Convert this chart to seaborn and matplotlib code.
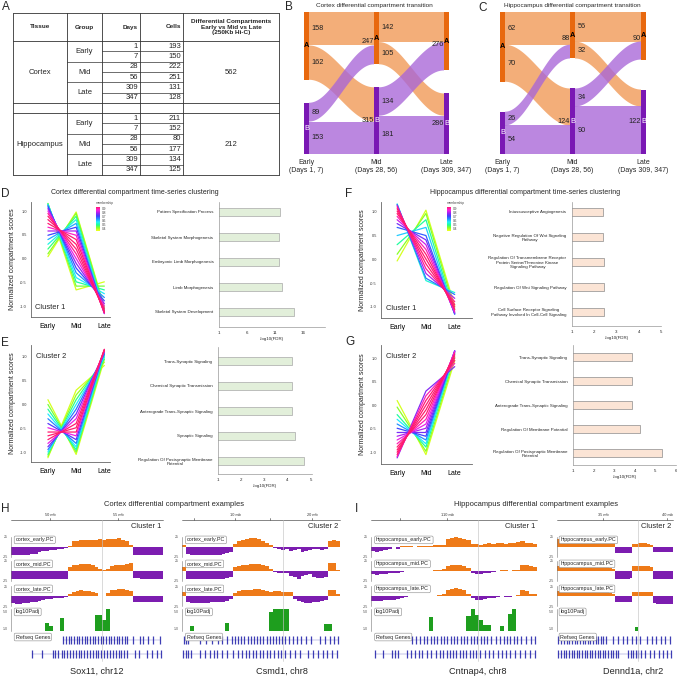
import numpy as np
import pandas as pd
import matplotlib
matplotlib.use("Agg")
import matplotlib.pyplot as plt
from matplotlib.colors import LinearSegmentedColormap
from matplotlib.patches import Polygon, Rectangle
import seaborn as sns

sns.set_theme(style="white")
plt.rcParams["font.family"] = ["Liberation Sans", "DejaVu Sans"]

# ---------------------------------------------------------------- data
# Panel A table
tissues = ["Cortex", "Hippocampus"]
groups = ["Early", "Mid", "Late"]
days = [1, 7, 28, 56, 309, 347]
cortex_cells = [193, 150, 222, 251, 131, 128]
hippo_cells = [211, 152, 80, 177, 134, 125]
diff_compartments = [562, 212]

# Panels B / C (rows: from A, from B ; cols: to A, to B)
stage_labels = ["Early\n(Days 1, 7)", "Mid\n(Days 28, 56)", "Late\n(Days 309, 347)"]
cortex_early_mid = [[158, 162], [89, 153]]
cortex_mid_late = [[142, 105], [134, 181]]
hippo_early_mid = [[62, 70], [26, 54]]
hippo_mid_late = [[56, 32], [34, 90]]

# Panels D-G parallel coordinates (normalized compartment scores)
d_early = [0.04, 0.10, 0.20, 0.30, 0.40, 0.49, 0.58, 0.66, 0.74, 0.82, 0.89, 0.95, 1.00, 1.05, 1.09, 1.12, 1.14, 1.15, 1.16, 1.15]
d_mid = [0.98, 0.95, 0.89, 0.82, 0.74, 0.66, 0.58, 0.49, 0.40, 0.30, 0.20, 0.10, 0.00, -0.10, -0.20, -0.30, -0.40, -0.49, -0.58, -0.66]
d_late = [-1.02, -1.05, -1.09, -1.12, -1.14, -1.15, -1.16, -1.15, -1.14, -1.12, -1.09, -1.05, -1.00, -0.95, -0.89, -0.82, -0.74, -0.66, -0.58, -0.49]
d_mem = [0.40, 0.45, 0.50, 0.56, 0.62, 0.70, 0.78, 0.85, 0.90, 0.95, 0.93, 0.88, 0.82, 0.76, 0.70, 0.64, 0.58, 0.52, 0.46, 0.40]

e_early = [0.10, 0.00, -0.10, -0.20, -0.30, -0.40, -0.49, -0.58, -0.66, -0.74, -0.82, -0.89, -0.95, -1.00, -1.05, -1.09, -1.12]
e_mid = [-1.05, -1.00, -0.95, -0.89, -0.82, -0.74, -0.66, -0.58, -0.49, -0.40, -0.30, -0.20, -0.10, 0.00, 0.10, 0.20, 0.30]
e_late = [0.95, 1.00, 1.05, 1.09, 1.12, 1.14, 1.15, 1.16, 1.15, 1.14, 1.12, 1.09, 1.05, 1.00, 0.95, 0.89, 0.82]
e_mem = [0.40, 0.46, 0.52, 0.58, 0.65, 0.72, 0.82, 0.92, 0.95, 0.90, 0.82, 0.74, 0.66, 0.58, 0.50, 0.44, 0.40]

f_early = [-0.04, 0.10, 0.30, 0.49, 0.66, 0.74, 0.82, 0.89, 0.95, 1.00, 1.05, 1.09, 1.12, 1.14, 1.15]
f_mid = [1.02, 0.95, 0.82, 0.66, 0.49, 0.40, 0.30, 0.20, 0.10, 0.00, -0.10, -0.20, -0.30, -0.40, -0.45]
f_late = [-0.98, -1.05, -1.12, -1.15, -1.15, -1.14, -1.12, -1.09, -1.05, -1.00, -0.95, -0.89, -0.82, -0.74, -0.70]
f_mem = [0.40, 0.45, 0.52, 0.60, 0.68, 0.74, 0.80, 0.86, 0.92, 0.95, 0.93, 0.88, 0.78, 0.66, 0.55]

g_early = [0.10, -0.04, -0.20, -0.30, -0.40, -0.49, -0.58, -0.66, -0.74, -0.82, -0.89, -0.95, -1.00, -1.05, -1.09, -1.12]
g_mid = [-1.05, -0.98, -0.89, -0.82, -0.74, -0.66, -0.58, -0.49, -0.40, -0.30, -0.20, -0.10, 0.00, 0.10, 0.20, 0.30]
g_late = [0.95, 1.02, 1.09, 1.12, 1.14, 1.15, 1.16, 1.15, 1.14, 1.12, 1.09, 1.05, 1.00, 0.95, 0.89, 0.82]
g_mem = [0.40, 0.45, 0.52, 0.58, 0.64, 0.70, 0.74, 0.78, 0.82, 0.86, 0.90, 0.94, 0.95, 0.92, 0.86, 0.75]

stage_ticks = ["Early", "Mid", "Late"]

# GO enrichment bars
d_terms = ["Pattern Specification Process", "Skeletal System Morphogenesis",
           "Embryonic Limb Morphogenesis", "Limb Morphogenesis", "Skeletal System Development"]
d_vals = [11.9, 11.7, 11.7, 12.2, 14.3]
e_terms = ["Trans-Synaptic Signaling", "Chemical Synaptic Transmission",
           "Anterograde Trans-Synaptic Signaling", "Synaptic Signaling",
           "Regulation Of Postsynaptic Membrane\nPotential"]
e_vals = [4.2, 4.2, 4.2, 4.3, 4.7]
f_terms = ["Intussusceptive Angiogenesis",
           "Negative Regulation Of Wnt Signaling\nPathway",
           "Regulation Of Transmembrane Receptor\nProtein Serine/Threonine Kinase\nSignaling Pathway",
           "Regulation Of Wnt Signaling Pathway",
           "Cell Surface Receptor Signaling\nPathway Involved In Cell-Cell Signaling"]
f_vals = [2.4, 2.4, 2.45, 2.45, 2.45]
g_terms = ["Trans-Synaptic Signaling", "Chemical Synaptic Transmission",
           "Anterograde Trans-Synaptic Signaling", "Regulation Of Membrane Potential",
           "Regulation Of Postsynaptic Membrane\nPotential"]
g_vals = [3.85, 3.85, 3.85, 4.25, 5.3]

# Panels H / I genome browser tracks (40 bins per locus)
h1_early = [-20, -21, -20, -20, -19, -18, -17, -12, -10, -9, -8, -8, -6, -4, -2,
            3, 15, 16, 17, 17, 18, 18, 18, 19, 18, 19, 19, 20, 22, 18, 14, 6,
            -20, -21, -21, -21, -21, -21, -21, -21]
h1_mid = [-20, -21, -21, -21, -21, -20, -20, -20, -20, -20, -20, -20, -20, -20, -19,
          10, 14, 16, 17, 18, 17, 15, 10, 4, 3, 5, 12, 14, 15, 16, 18, 20,
          -18, -18, -19, -19, -19, -19, -19, -19]
h1_late = [-18, -19, -19, -18, -17, -16, -14, -12, -10, -8, -7, -6, -5, -4, -2,
           6, 10, 12, 14, 13, 12, 10, 8, 1, 0, 8, 14, 16, 18, 17, 15, 12,
           -14, -15, -15, -15, -16, -16, -15, -15]
h1_padj = [0, 0, 0, 0, 0, 0, 0, 0, 0, 2.4, 1.6, 0, 0, 3.6, 0, 0, 0, 0, 0, 0,
           0, 0, 4.3, 4.3, 3.1, 6.0, 0, 0, 0, 0, 0, 0, 0, 0, 0, 0, 0, 0, 0, 0]
h2_early = [5, -18, -20, -21, -21, -20, -20, -19, -19, -20, -18, -16, -12,
            8, 14, 17, 20, 22, 22, 20, 16, 10, 4,
            -3, -5, -8, -6, -10, -8, -5, -12, -10, -8, -6, -4, -8, -6,
            15, 18, 15]
h2_mid = [10, -19, -20, -20, -20, -20, -20, -20, -19, -19, -19, -18, -15,
          10, 12, 14, 16, 18, 18, 17, 15, 12, 5,
          -2, -4, -5, -6, -12, -14, -20, -12, -10, -8, -16, -18, -18, -16,
          20, 20, 2]
h2_late = [10, -14, -17, -18, -18, -18, -17, -16, -16, -15, -14, -12, -8,
           8, 12, 14, 15, 16, 18, 17, 16, 13, 11, 12, 12, 10, 11, 9,
           -8, -12, -15, -18, -17, -14, -16, -13, -10,
           15, 16, 5]
h2_padj = [0, 0, 1.7, 0, 0, 0, 0, 0, 0, 0, 0, 2.4, 0, 0, 0, 0, 0, 0, 0, 0,
           0, 0, 5.0, 5.7, 5.7, 5.7, 5.7, 0, 0, 0, 0, 0, 0, 0, 0, 0, 2.2, 2.2, 0, 0]
i1_early = [-10, -12, -10, -8, -4, 0, -6, 2, 3, 2, 1, 2, 3, 2, 3, 5, 6, 4,
            20, 22, 24, 22, 20, 18,
            8, 7, 6, 7, 9, 8, 10, 9, 8, 9, 10, 12, 14, 10, 9, 8]
i1_mid = [-8, -9, -8, -7, -6, -6, -5, -3, -1, -1, 0, 1, 1, 0, 1, 2, 3, 5,
          12, 14, 16, 15, 12, 8, -4, -7, -8, -6, -5, -3, 1, 2, 2, 1, 2, 3,
          14, 16, 12, 10]
i1_late = [-12, -13, -12, -10, -10, -9, -8, -5, -2, -1, -1, -1, 0, -1, 0, 1, 2, 4,
           16, 18, 19, 18, 16, 6, -6, -9, -10, -8, -6, -4, -2, -1, -2, -3, -1, 2,
           15, 12, 6, 4]
i1_padj = [0, 0, 0, 0, 0, 0, 0, 0, 0, 0, 0, 0, 0, 0, 3.8, 0, 0, 0, 0, 0,
           0, 0, 0, 4.0, 5.7, 4.3, 3.1, 2.0, 2.0, 0, 0, 1.8, 0, 4.5, 5.7, 0, 0, 0, 0, 0]
i2_early = [20, 20, 20, 20, 20, 20, 20, 20, 20, 20, 18,
            15, 15, 15, 14, 14, 14, 12, 12, 10,
            -16, -16, -16, -16, -16, -14,
            8, 8, 9, 9, 9, 8, 6,
            -12, -12, -12, -12, -12, -12, -12]
i2_mid = [12, 12, 12, 12, 12, 12, 11, 11, 11, 11, 11, 10, 10, 10, 10, 10, 10, 10, 8, 6,
          -20, -20, -20, -20, -20, -18,
          12, 13, 13, 13, 12, 12, 10,
          -20, -20, -20, -20, -20, -20, -20]
i2_late = [12, 12, 12, 12, 12, 11, 11, 11, 11, 11, 10, 10, 10, 10, 10, 10, 9, 9, 8, 6,
           -15, -16, -16, -16, -16, -14,
           10, 10, 11, 11, 11, 10, 9,
           -18, -20, -20, -20, -20, -20, -20]
i2_padj = [0] * 27 + [1.5] + [0] * 12

# gene tick positions (bin units) for the two RefSeq rows
h1_genes1 = [13.8, 14.5, 15.2, 15.9, 16.6, 17.3, 18.0, 18.7, 19.4, 20.1, 20.8, 21.5, 22.2, 22.9,
             23.6, 24.3, 25.0, 25.7, 26.4, 27.1, 27.8, 28.5, 29.2, 29.9, 30.6,
             32.1, 33.9, 34.7, 36.1, 37.4, 39.2]
h1_genes2 = [5.5, 8.1, 11.0, 11.6, 12.4, 13.3, 14.0, 14.8, 15.5, 16.3, 17.0, 17.8, 18.5, 19.3,
             20.0, 20.8, 21.5, 22.3, 23.0, 23.8, 24.5, 25.3, 26.0, 26.8, 27.5, 28.3, 29.0,
             29.8, 30.6, 32.6, 33.8, 35.7, 37.0, 38.3, 39.6]
h2_genes1 = [0.4, 1.0, 1.5, 4.6, 6.0, 7.5, 9.0, 10.2, 11.4, 12.6, 13.4, 14.2, 15.0, 15.8, 16.6,
             17.4, 18.2, 19.0, 19.8, 20.6, 21.4, 22.2, 23.0, 23.8, 24.6, 25.4, 26.2, 27.0,
             28.0, 29.0, 30.2, 31.4, 32.6, 35.0, 36.2, 37.4, 38.6, 39.6]
h2_genes2 = [0.2, 0.9, 1.6, 2.4, 4.6, 5.8, 7.0, 8.0, 8.8, 10.0, 11.5, 13.0, 14.3, 15.2, 16.1,
             17.0, 17.9, 18.8, 19.7, 20.6, 21.5, 22.4, 23.3, 24.2, 25.1, 26.0, 27.4, 28.6,
             29.9, 32.0, 33.2, 34.4, 35.6, 36.8, 38.0, 39.2]
i1_genes1 = [9.8, 10.8, 11.8, 12.8, 13.6, 14.4, 15.2, 16.0, 16.8, 17.6, 18.4, 19.2, 20.0, 20.8,
             21.6, 22.4, 23.2, 24.0, 24.8, 25.6, 26.4, 27.2, 28.0, 29.0, 30.0, 31.2, 32.0,
             32.8, 33.6, 34.4, 35.2, 36.2, 37.4, 38.6, 39.6]
i1_genes2 = [1.0, 3.0, 5.0, 5.8, 6.6, 8.6, 9.6, 10.6, 11.6, 12.4, 13.4, 14.4, 15.6, 16.6, 17.4,
             18.2, 19.0, 19.8, 20.6, 21.4, 22.2, 23.0, 23.8, 24.6, 25.4, 26.2, 27.4, 28.4,
             29.4, 30.6, 31.6, 32.6, 33.6, 34.8, 36.0, 37.0, 38.2, 39.4]
i2_genes1 = [0.5, 1.5, 2.5, 3.4, 4.3, 5.2, 6.1, 7.0, 7.9, 8.8, 9.7, 10.6, 11.5, 12.4, 13.3, 14.2,
             15.1, 16.0, 17.0, 19.4, 21.0, 22.6, 24.2, 25.8, 27.4, 28.6, 31.0, 32.6, 34.2,
             35.8, 37.4, 39.0]
i2_genes2 = [0.5, 1.4, 2.3, 3.2, 4.1, 5.0, 5.9, 6.8, 7.7, 8.6, 9.5, 10.4, 11.3, 12.2, 13.1, 14.0,
             14.9, 15.8, 16.7, 17.6, 18.5, 19.4, 20.3, 21.2, 24.5, 25.4, 26.3, 27.2, 28.1,
             29.0, 30.5, 32.0, 33.5, 35.0, 36.5, 38.0, 39.3]

# ---------------------------------------------------------------- figure
W = H = 677
fig = plt.figure(figsize=(6.77, 6.77), dpi=100)


def add_ax(x, y, w, h):
    return fig.add_axes([x / W, 1 - (y + h) / H, w / W, h / H])


ov = add_ax(0, 0, W, H)
ov.set_xlim(0, W)
ov.set_ylim(H, 0)
ov.axis("off")
ov.set_zorder(20)
ov.patch.set_visible(False)

# panel letters
for lab, (lx, ly) in {"A": (2, 7), "B": (285, 7), "C": (478, 8), "D": (1, 194),
                      "E": (1, 343), "F": (345, 194), "G": (345, 342),
                      "H": (1, 509), "I": (355, 509)}.items():
    ov.text(lx, ly, lab, fontsize=8.5, ha="left", va="center")

# ---------------------------------------------------------------- A: table
LINE = "#333333"
cols = [13, 67, 102, 140, 183, 279]
for y in [13, 41, 103, 113, 175]:
    ov.plot([13, 279], [y, y], color=LINE, lw=0.6)
for x in cols:
    ov.plot([x, x], [13, 175], color=LINE, lw=0.6)
ov.text(40, 27, "Tissue", fontsize=4.6, fontweight="bold", ha="center", va="center")
ov.text(84.5, 27, "Group", fontsize=4.6, fontweight="bold", ha="center", va="center")
ov.text(138, 27, "Days", fontsize=4.6, fontweight="bold", ha="right", va="center")
ov.text(181, 27, "Cells", fontsize=4.6, fontweight="bold", ha="right", va="center")
ov.text(231, 27, "Differential Compartments\nEarly vs Mid vs Late\n(250Kb Hi-C)",
        fontsize=4.6, fontweight="bold", ha="center", va="center", linespacing=1.15)
for ti, (base, cells) in enumerate(zip([41, 113], [cortex_cells, hippo_cells])):
    sub = 62 / 6
    ov.text(40, base + 31, tissues[ti], fontsize=5.5, ha="center", va="center")
    ov.text(231, base + 31, str(diff_compartments[ti]), fontsize=5.5, ha="center", va="center")
    for g in range(3):
        ov.text(84.5, base + sub * (2 * g + 1), groups[g], fontsize=5.5, ha="center", va="center")
    for r in range(6):
        yc = base + sub * (r + 0.5)
        ov.text(138, yc, str(days[r]), fontsize=5.5, ha="right", va="center")
        ov.text(181, yc, str(cells[r]), fontsize=5.5, ha="right", va="center")
    for r in range(1, 6):
        yl = base + sub * r
        x_start = 67 if r % 2 == 0 else 102
        ov.plot([x_start, 183], [yl, yl], color=LINE, lw=0.5)

# ---------------------------------------------------------------- B / C: sankey
NODE_A, NODE_B = "#E8680E", "#7A18B4"
FLOW_A, FLOW_B = "#F2A062", "#A865D8"
NW = 5


def sankey(xs, em, ml, gap, title, tx):
    top, bot = 12, 154
    nA = [sum(em[0]), em[0][0] + em[1][0], ml[0][0] + ml[1][0]]
    nB = [sum(em[1]), em[0][1] + em[1][1], ml[0][1] + ml[1][1]]
    k = (bot - top - gap) / (nA[0] + nB[0])
    ext = [((top, top + nA[i] * k), (bot - nB[i] * k, bot)) for i in range(3)]
    for stage, mat in enumerate([em, ml]):
        x0 = xs[stage] + NW
        x1 = xs[stage + 1]
        src = [ext[stage][0][0], ext[stage][1][0]]
        tgt = [ext[stage + 1][0][0], ext[stage + 1][1][0]]
        for s in range(2):
            for t in range(2):
                h = mat[s][t] * k
                y0, y1 = src[s], tgt[t]
                tt = np.linspace(0, 1, 60)
                xx = x0 + (x1 - x0) * tt
                sm = (1 - np.cos(np.pi * tt)) / 2
                yt = y0 + (y1 - y0) * sm
                pts = np.concatenate([np.column_stack([xx, yt]),
                                      np.column_stack([xx[::-1], (yt + h)[::-1]])])
                ov.add_patch(Polygon(pts, closed=True, lw=0,
                                     fc=FLOW_A if s == 0 else FLOW_B,
                                     alpha=0.85 if s == 0 else 0.78))
                ov.text(x0 + 2.5, y0 + h / 2, str(mat[s][t]), fontsize=5.3,
                        ha="left", va="center", color="#222222")
                src[s] += h
                tgt[t] += h
    for i in range(3):
        (a0, a1), (b0, b1) = ext[i]
        ov.add_patch(Rectangle((xs[i], a0), NW, a1 - a0, fc=NODE_A, lw=0))
        ov.add_patch(Rectangle((xs[i], b0), NW, b1 - b0, fc=NODE_B, lw=0))
        ov.text(xs[i] + NW / 2, (a0 + a1) / 2, "A", fontsize=5.3, fontweight="bold",
                ha="center", va="center", color="black")
        ov.text(xs[i] + NW / 2, (b0 + b1) / 2, "B", fontsize=5.3,
                ha="center", va="center", color="white")
        if i > 0:
            ov.text(xs[i] - 0.5, (a0 + a1) / 2 + 3, str(nA[i]), fontsize=5.3,
                    ha="right", va="center", color="#222222")
            ov.text(xs[i] - 0.5, (b0 + b1) / 2, str(nB[i]), fontsize=5.3,
                    ha="right", va="center", color="#222222")
        ov.text(xs[i] + NW / 2, 159, stage_labels[i], fontsize=5, ha="center",
                va="top", linespacing=1.15)
    ov.text(tx, 5, title, fontsize=4.6, ha="center", va="center")


sankey([304, 374, 444], cortex_early_mid, cortex_mid_late, 23,
       "Cortex differential compartment transition", 374)
sankey([500, 570, 641], hippo_early_mid, hippo_mid_late, 30,
       "Hippocampus differential compartment transition", 572)

# ---------------------------------------------------------------- D-G
mem_cmap = LinearSegmentedColormap.from_list(
    "mem", ["#F0FF20", "#90FF20", "#20FF90", "#20F0FF", "#2090FF", "#4040FF",
            "#A020F0", "#FF20E0", "#FF1A70"])
MEM_NORM = (0.38, 0.90)


def parallel(ax, e, m, l, mem, cluster, cpos):
    df = pd.DataFrame({"id": np.arange(len(e)), "Early": e, "Mid": m, "Late": l,
                       "membership": mem})
    lng = df.melt(id_vars=["id", "membership"], value_vars=["Early", "Mid", "Late"],
                  var_name="stage_name", value_name="score")
    lng["stage"] = lng["stage_name"].map({"Early": 0, "Mid": 1, "Late": 2})
    lng = lng.sort_values(["membership", "id", "stage"])
    sns.lineplot(data=lng, x="stage", y="score", hue="membership", units="id",
                 estimator=None, palette=mem_cmap, hue_norm=MEM_NORM, legend=False,
                 lw=0.9, sort=False, ax=ax)
    ax.set_xlim(-0.6, 2.2)
    ax.set_ylim(-1.23, 1.19)
    ax.set_xticks([0, 1, 2])
    ax.set_xticklabels(stage_ticks, fontsize=5)
    ax.set_yticks([-1, -0.5, 0, 0.5, 1])
    ax.set_yticklabels(["-1.0", "-0.5", "0.0", "0.5", "1.0"], fontsize=2.8)
    ax.tick_params(axis="both", length=1.5, width=0.4, pad=1.5, colors="#555555")
    ax.tick_params(axis="x", labelcolor="black", pad=3)
    ax.tick_params(axis="y", labelcolor="#333333")
    for s in ["top", "right"]:
        ax.spines[s].set_visible(False)
    for s in ["left", "bottom"]:
        ax.spines[s].set_linewidth(0.6)
        ax.spines[s].set_color("#666666")
    ax.set_xlabel("")
    ax.set_ylabel("Normalized compartment scores", fontsize=5, labelpad=3)
    ax.text(cpos[0], cpos[1], cluster, transform=ax.transAxes, fontsize=5.4,
            ha="left", va="center")


def mem_legend(x, y):
    cax = add_ax(x, y, 4, 24)
    grad = np.linspace(0.90, 0.38, 100).reshape(-1, 1)
    cax.imshow(grad, aspect="auto", cmap=mem_cmap, vmin=MEM_NORM[0], vmax=MEM_NORM[1])
    cax.set_xticks([])
    cax.set_yticks([])
    for s in cax.spines.values():
        s.set_visible(False)
    ov.text(x, y - 2, "membership", fontsize=2.3, ha="left", va="bottom", color="#444444")
    for j, v in enumerate(["0.9", "0.8", "0.7", "0.6", "0.5", "0.4"]):
        ov.text(x + 6, y + 2 + j * 4, v, fontsize=2.3, ha="left", va="center", color="#444444")


def gobars(ax, terms, vals, xmax, ticks, face, edge, ylim):
    df = pd.DataFrame({"term": terms, "val": vals})
    sns.barplot(data=df, x="val", y="term", orient="h", color=face, edgecolor=edge,
                linewidth=0.5, width=0.34, saturation=1, ax=ax)
    ax.set_xlim(1, xmax)
    ax.set_ylim(*ylim)
    ax.set_xticks(ticks)
    ax.set_xticklabels([str(t) for t in ticks], fontsize=3.2)
    ax.set_yticks(range(len(terms)))
    ax.set_yticklabels(terms, fontsize=3.2, multialignment="center")
    ax.set_yticks([i + 0.5 for i in range(len(terms) - 1)], minor=True)
    ax.tick_params(axis="y", which="major", length=0, pad=4)
    ax.tick_params(axis="y", which="minor", length=1.5, width=0.4, color="#888888")
    ax.tick_params(axis="x", length=1.5, width=0.4, pad=1.5, color="#888888")
    for s in ["top", "right"]:
        ax.spines[s].set_visible(False)
    for s in ["left", "bottom"]:
        ax.spines[s].set_linewidth(0.5)
        ax.spines[s].set_color("#999999")
    ax.set_ylabel("")
    ax.set_xlabel("-log10(FDR)", fontsize=3.2, labelpad=1.5)


GREEN_F, GREEN_E = "#E2EFDA", "#A8A8A8"
PEACH_F, PEACH_E = "#FBE4D5", "#8C8C8C"

ov.text(135, 193, "Cortex differential compartment time-series clustering",
        fontsize=5, ha="center", va="center")
ov.text(525, 193, "Hippocampus differential compartment time-series clustering",
        fontsize=5, ha="center", va="center")

axD = add_ax(31, 202, 79, 115)
parallel(axD, d_early, d_mid, d_late, d_mem, "Cluster 1", (0.05, 0.08))
mem_legend(96, 207)
axDb = add_ax(219, 202, 106, 125)
gobars(axDb, d_terms, d_vals, 19.9, [1, 6, 11, 16], GREEN_F, GREEN_E, (4.6, -0.4))

axE = add_ax(31, 345, 79, 117)
parallel(axE, e_early, e_mid, e_late, e_mem, "Cluster 2", (0.06, 0.9))
axE.set_ylim(-1.21, 1.25)
axEb = add_ax(218, 347, 94, 127)
gobars(axEb, e_terms, e_vals, 5.05, [1, 2, 3, 4, 5], GREEN_F, GREEN_E, (4.52, -0.56))

axF = add_ax(381, 202, 91, 116)
parallel(axF, f_early, f_mid, f_late, f_mem, "Cluster 1", (0.06, 0.08))
axF.set_xlim(-0.56, 2.6)
mem_legend(447, 207)
axFb = add_ax(572, 202, 89, 124)
gobars(axFb, f_terms, f_vals, 5.0, [1, 2, 3, 4, 5], PEACH_F, PEACH_E, (4.56, -0.4))

axG = add_ax(381, 345, 91, 119)
parallel(axG, g_early, g_mid, g_late, g_mem, "Cluster 2", (0.06, 0.9))
axG.set_xlim(-0.56, 2.6)
axG.set_ylim(-1.25, 1.28)
axGb = add_ax(573, 345, 103, 120)
gobars(axGb, g_terms, g_vals, 6.0, [1, 2, 3, 4, 5, 6], PEACH_F, PEACH_E, (4.5, -0.5))

# ---------------------------------------------------------------- H / I
TR_OR, TR_PU, PADJ_G, GENE_C = "#EE7A18", "#7C1DB0", "#1E9E1E", "#1C1CA8"
ov.text(174, 504, "Cortex differential compartment examples", fontsize=5.4,
        ha="center", va="center")
ov.text(536, 504, "Hippocampus differential compartment examples", fontsize=5.4,
        ha="center", va="center")

panels = [
    dict(x=11, w=152, prefix="cortex", tracks=(h1_early, h1_mid, h1_late), padj=h1_padj,
         genes=(h1_genes1, h1_genes2), cluster="Cluster 1",
         ruler=[(10.3, "50 mb"), (28.2, "55 mb")], vline=23.9, gene="Sox11, chr12", gx=97),
    dict(x=182, w=158, prefix="cortex", tracks=(h2_early, h2_mid, h2_late), padj=h2_padj,
         genes=(h2_genes1, h2_genes2), cluster="Cluster 2",
         ruler=[(3.0, ""), (13.4, "10 mb"), (22.3, ""), (32.9, "20 mb")], vline=25.6,
         gene="Csmd1, chr8", gx=282),
    dict(x=371, w=166, prefix="hippocampus", tracks=(i1_early, i1_mid, i1_late), padj=i1_padj,
         genes=(i1_genes1, i1_genes2), cluster="Cluster 1",
         ruler=[(7.0, ""), (18.3, "110 mb")], vline=25.8, gene="Cntnap4, chr8", gx=478),
    dict(x=557, w=116, prefix="hippocampus", tracks=(i2_early, i2_mid, i2_late), padj=i2_padj,
         genes=(i2_genes1, i2_genes2), cluster="Cluster 2",
         ruler=[(15.9, "35 mb"), (37.9, "40 mb")], vline=27.9, gene="Dennd1a, chr2", gx=633),
]

track_boxes = [(537, 20, "early"), (561, 20, "mid"), (586, 20, "late")]


def label_box(ax, text, y=0.97):
    ax.text(0.03, y, text, transform=ax.transAxes, fontsize=3.9, ha="left", va="top",
            zorder=5, bbox=dict(boxstyle="round,pad=0.25", fc="white", ec="#888888", lw=0.4))


def left_axis(ax, ticks, labels):
    for s in ["top", "right", "bottom"]:
        ax.spines[s].set_visible(False)
    ax.spines["left"].set_linewidth(0.4)
    ax.spines["left"].set_color("#777777")
    ax.set_xticks([])
    ax.set_yticks(ticks)
    ax.set_yticklabels(labels, fontsize=2.6)
    ax.tick_params(axis="y", length=1.5, width=0.4, pad=0.8, colors="#555555")
    ax.patch.set_alpha(0)


for p in panels:
    x0, w = p["x"], p["w"]
    n = len(p["tracks"][0])
    ov.plot([x0, x0 + w], [520, 520], color="#555555", lw=0.5)
    for b, lab in p["ruler"]:
        xp = x0 + b * w / n
        ov.plot([xp, xp], [517.5, 520], color="#555555", lw=0.5)
        if lab:
            ov.text(xp, 516.5, lab, fontsize=2.8, ha="center", va="bottom", color="#333333")
    ov.text(x0 + w - 2, 526.5, p["cluster"], fontsize=5.4, ha="right", va="center")
    vx = x0 + p["vline"] * w / n
    ov.plot([vx, vx], [520, 661], color="#C4C4C4", lw=0.45)
    ov.text(p["gx"], 671, p["gene"], fontsize=6.6, ha="center", va="center")

    for vals, (ty, th, nm) in zip(p["tracks"], track_boxes):
        ax = add_ax(x0, ty, w, th)
        vals = np.asarray(vals, dtype=float)
        ax.bar(np.arange(n), vals, width=1.0, align="edge", lw=0,
               color=[TR_OR if v >= 0 else TR_PU for v in vals])
        ax.set_xlim(0, n)
        ax.set_ylim(-25, 25)
        left_axis(ax, [-25, 25], ["-25", "25"])
        label_box(ax, f"{p['prefix']}_{nm}.PC", y=0.98)

    ax = add_ax(x0, 609, w, 22)
    ax.bar(np.arange(n), p["padj"], width=1.0, align="edge", lw=0, color=PADJ_G)
    ax.set_xlim(0, n)
    ax.set_ylim(0.5, 5.7)
    left_axis(ax, [1.0, 5.0], ["1.0", "5.0"])
    label_box(ax, "log10Padj", y=0.98)

    ax = add_ax(x0, 634, w, 26)
    ax.set_xlim(0, n)
    ax.set_ylim(0, 2)
    ax.axis("off")
    for row_y, pos in zip([1.54, 0.46], p["genes"]):
        ax.plot([min(pos), max(pos)], [row_y, row_y], color=GENE_C, lw=0.3, alpha=0.6)
        ax.vlines(pos, row_y - 0.3, row_y + 0.3, color=GENE_C, lw=0.9, alpha=0.85)
    ax.text(0.03, 0.98, "Refseq Genes", transform=ax.transAxes, fontsize=3.9, ha="left",
            va="top", zorder=5,
            bbox=dict(boxstyle="round,pad=0.25", fc="white", ec="#888888", lw=0.4))

fig.savefig("out.png", dpi=100)
